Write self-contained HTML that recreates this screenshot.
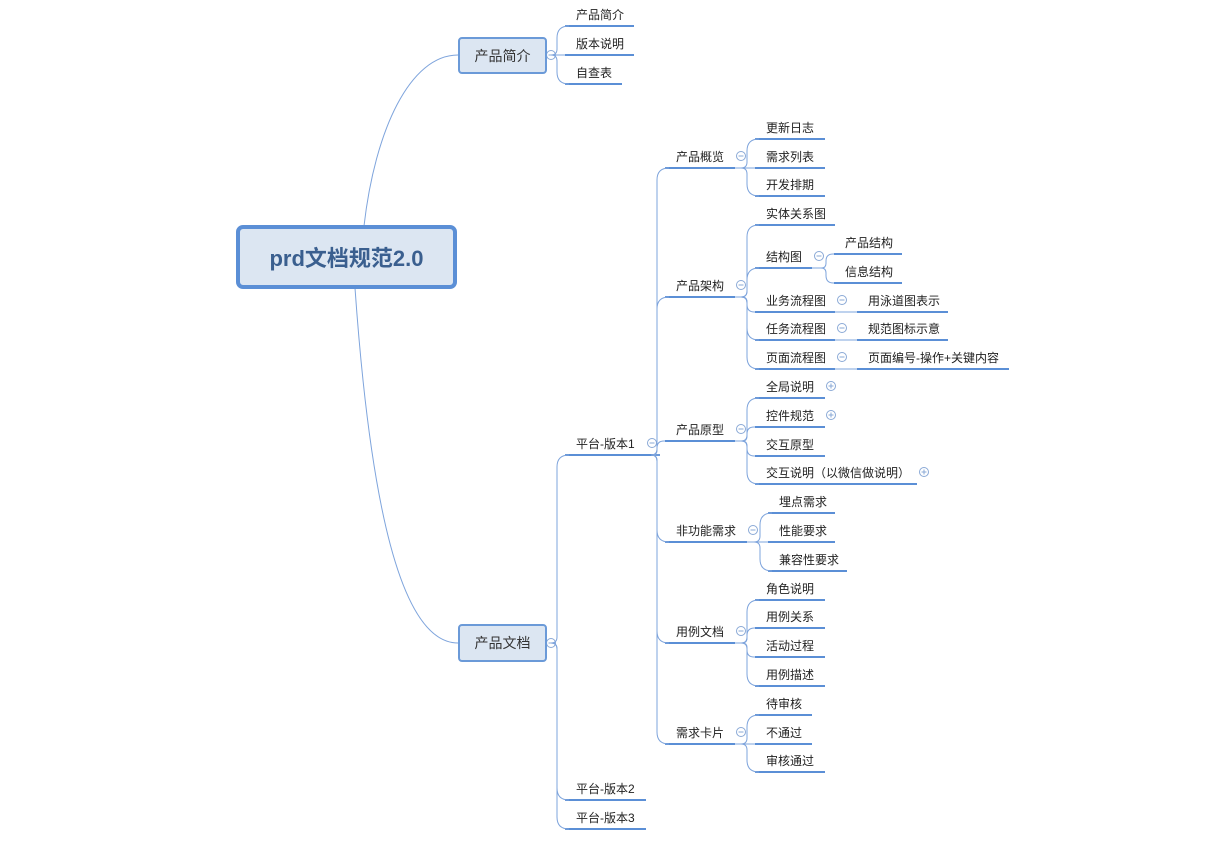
<!DOCTYPE html>
<html><head><meta charset="utf-8"><style>
body{margin:0;background:#fff;width:1218px;height:845px;overflow:hidden;position:relative;font-family:"Liberation Sans","Noto Sans CJK SC",sans-serif}
.t{position:absolute;font-size:12px;color:#222;white-space:nowrap;line-height:14px}
.box{position:absolute;background:#dce6f2;border:2px solid #6b9ad8;border-radius:4px;box-sizing:border-box;display:flex;align-items:center;justify-content:center;font-size:14px;color:#333}
svg{position:absolute;left:0;top:0}
</style></head><body>
<svg id="s" width="1218" height="845"></svg>
<div class="box" style="left:236px;top:225px;width:221px;height:64px;border:4px solid #5b8fd6;border-radius:7px;font-size:22px;font-weight:bold;color:#3a5f8f">prd文档规范2.0</div>
<div class="box" style="left:458px;top:37px;width:89px;height:37px">产品简介</div>
<div class="box" style="left:458px;top:624px;width:89px;height:38px">产品文档</div>
<div id="c"></div>
<script>
var N={
b1:{x2:551,y:55,box:1},b2:{x2:551,y:643,box:1},
a1:['产品简介',565,26,634,'b1'],a2:['版本说明',565,55,634,'b1'],a3:['自查表',565,84,622,'b1'],
v1:['平台-版本1',565,455,660,'b2',652],v2:['平台-版本2',565,800,646,'b2'],v3:['平台-版本3',565,829,646,'b2'],
g1:['产品概览',665,168,735,'v1',741],g2:['产品架构',665,297,735,'v1',741],g3:['产品原型',665,441,735,'v1',741],
g4:['非功能需求',665,542,747,'v1',753],g5:['用例文档',665,643,735,'v1',741],g6:['需求卡片',665,744,735,'v1',741],
h1:['更新日志',755,139,825,'g1'],h2:['需求列表',755,168,825,'g1'],h3:['开发排期',755,196,825,'g1'],
i1:['实体关系图',755,225,835,'g2'],i2:['结构图',755,268,812,'g2',819],i3:['业务流程图',755,312,835,'g2',842],
i4:['任务流程图',755,340,835,'g2',842],i5:['页面流程图',755,369,835,'g2',842],
j1:['产品结构',834,254,902,'i2'],j2:['信息结构',834,283,902,'i2'],
j3:['用泳道图表示',857,312,948,'i3'],j4:['规范图标示意',857,340,948,'i4'],j5:['页面编号-操作+关键内容',857,369,1009,'i5'],
k1:['全局说明',755,398,825,'g3',-831],k2:['控件规范',755,427,825,'g3',-831],k3:['交互原型',755,456,825,'g3'],k4:['交互说明（以微信做说明）',755,484,917,'g3',-924],
l1:['埋点需求',768,513,835,'g4'],l2:['性能要求',768,542,835,'g4'],l3:['兼容性要求',768,571,847,'g4'],
m1:['角色说明',755,600,825,'g5'],m2:['用例关系',755,628,825,'g5'],m3:['活动过程',755,657,825,'g5'],m4:['用例描述',755,686,825,'g5'],
n1:['待审核',755,715,812,'g6'],n2:['不通过',755,744,812,'g6'],n3:['审核通过',755,772,825,'g6']};
var s='',h='',C='#5b8fd6',L='#7ea4dc';
s+='<path d="M364 226 C375 130 410 55 458 55" fill="none" stroke="'+L+'"/>';
s+='<path d="M355 288 C370 500 400 643 458 643" fill="none" stroke="'+L+'"/>';
function circ(x,y,plus){var r='<circle cx="'+x+'" cy="'+y+'" r="4.5" fill="#fff" stroke="#8aa9d6"/><line x1="'+(x-2.5)+'" y1="'+y+'" x2="'+(x+2.5)+'" y2="'+y+'" stroke="#8aa9d6"/>';if(plus)r+='<line x1="'+x+'" y1="'+(y-2.5)+'" x2="'+x+'" y2="'+(y+2.5)+'" stroke="#8aa9d6"/>';return r;}
s+=circ(551,55)+circ(551,643);
for(var k in N){var n=N[k];if(n.box)continue;
 var t=n[0],x1=n[1],y=n[2],x2=n[3],p=N[n[4]];
 s+='<line x1="'+x1+'" y1="'+y+'" x2="'+x2+'" y2="'+y+'" stroke="'+C+'" stroke-width="2"/>';
 h+='<div class="t" style="left:'+(x1+11)+'px;top:'+(y-18)+'px">'+t+'</div>';
 if(n[5]>0)s+=circ(n[5],y-12);
 if(n[5]<0)s+=circ(-n[5],y-12,1);
 var px,py;
 if(p.box){px=p.x2+5;py=p.y;}else{py=p[2];px=p[3];}
 var xv=x1-8,dy=y-py;
 if(Math.abs(dy)<2){s+='<path d="M'+px+' '+py+' L'+x1+' '+y+'" fill="none" stroke="'+L+'"/>';continue;}
 var sg=dy>0?1:-1,r1=Math.min(6,Math.abs(dy)/3),r2=Math.min(12,Math.abs(dy)/2);
 s+='<path d="M'+px+' '+py+' L'+(xv-r1)+' '+py+' Q'+xv+' '+py+' '+xv+' '+(py+sg*r1)+' L'+xv+' '+(y-sg*r2)+' Q'+xv+' '+y+' '+(xv+r2)+' '+y+' L'+x1+' '+y+'" fill="none" stroke="'+L+'"/>';
}
document.getElementById('s').innerHTML=s;document.getElementById('c').innerHTML=h;
</script>
</body></html>
